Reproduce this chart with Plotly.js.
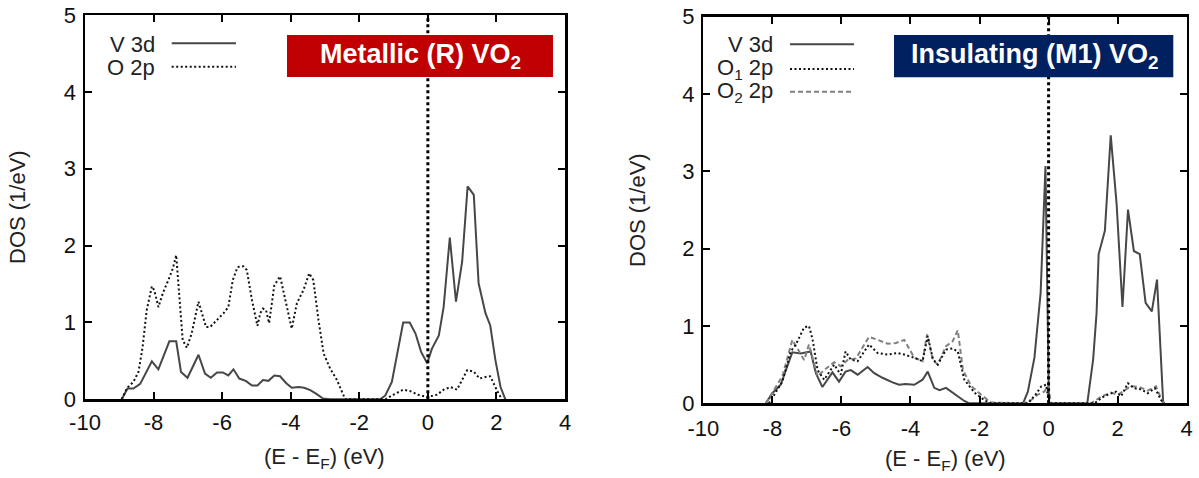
<!DOCTYPE html>
<html>
<head>
<meta charset="utf-8">
<script src="https://cdn.plot.ly/plotly-3.0.1.min.js"></script>
<style>html,body{margin:0;padding:0;background:#fff;}#chart{width:1199px;height:478px;}</style>
</head>
<body>
<div id="chart"></div>
<script>
// ---------- Data ----------
// Metallic (R) VO2
const E_R_V3d = [-8.93,-8.76,-8.59,-8.39,-8.05,-7.86,-7.54,-7.34,-7.20,-7.01,-6.69,-6.50,-6.33,-6.15,-5.98,-5.82,-5.67,-5.50,-5.31,-5.13,-4.97,-4.81,-4.65,-4.48,-4.31,-4.13,-3.97,-3.77,-3.61,-3.43,-3.25,-3.06,-2.85,
  -1.39,-1.24,-1.05,-0.72,-0.53,-0.36,-0.20,-0.02,0.12,0.32,0.46,0.64,0.82,1.00,1.16,1.34,1.48,1.68,1.82,1.97,2.12,2.26];
const DOS_R_V3d = [0,0.14,0.14,0.20,0.495,0.39,0.755,0.755,0.356,0.28,0.58,0.335,0.28,0.35,0.35,0.31,0.39,0.27,0.24,0.18,0.18,0.25,0.24,0.31,0.30,0.21,0.15,0.16,0.15,0.12,0.07,0.01,0,
  0,0.05,0.225,1.0,1.0,0.855,0.62,0.47,0.66,0.83,1.20,2.105,1.27,1.79,2.77,2.66,1.51,1.12,0.96,0.51,0.16,0];

const E_R_O2p = [-8.93,-8.77,-8.59,-8.44,-8.32,-8.20,-8.05,-7.98,-7.86,-7.73,-7.57,-7.44,-7.34,-7.25,-7.15,-7.03,-6.89,-6.69,-6.59,-6.47,-6.35,-6.15,-5.96,-5.82,-5.69,-5.55,-5.38,-5.28,-5.13,-4.97,-4.89,-4.81,-4.72,-4.63,-4.48,-4.31,-4.13,-3.97,-3.82,-3.63,-3.46,-3.34,-3.19,-3.04,-2.85,-2.65,-2.41,
  -1.24,-1.0,-0.72,-0.53,-0.29,-0.02,0.27,0.46,0.66,0.85,1.15,1.34,1.51,1.68,1.82,2.02,2.16];
const DOS_R_O2p = [0,0.15,0.225,0.356,0.68,1.16,1.47,1.42,1.20,1.38,1.55,1.70,1.875,1.29,0.77,0.67,0.855,1.27,1.12,0.94,0.94,1.03,1.12,1.20,1.55,1.72,1.73,1.68,1.29,0.955,1.12,1.18,1.16,0.99,1.48,1.60,1.25,0.92,1.25,1.42,1.64,1.55,1.03,0.595,0.40,0.25,0,
  0,0.06,0.125,0.11,0.06,0.03,0.06,0.125,0.16,0.125,0.38,0.36,0.27,0.29,0.30,0.11,0];

// Insulating (M1) VO2
const E_M1_V3d = [-8.19,-8.0,-7.76,-7.42,-7.18,-6.89,-6.74,-6.55,-6.26,-6.07,-5.88,-5.73,-5.53,-5.24,-5.05,-4.81,-4.52,-4.33,-4.14,-3.89,-3.65,-3.50,-3.31,-3.16,-2.97,-2.72,-2.44,-2.30,
  -0.74,-0.60,-0.41,-0.23,-0.09,0.01,
  1.12,1.29,1.39,1.45,1.63,1.80,1.97,2.14,2.30,2.47,2.64,2.81,2.99,3.14,3.32];
const DOS_M1_V3d = [0,0.13,0.24,0.66,0.645,0.67,0.39,0.21,0.40,0.28,0.41,0.43,0.37,0.47,0.39,0.33,0.27,0.24,0.25,0.24,0.305,0.41,0.20,0.17,0.20,0.12,0.03,0,
  0,0.15,0.59,1.43,3.07,0,
  0,0.565,1.17,1.93,2.23,3.465,2.58,1.245,2.505,1.97,1.93,1.30,1.19,1.60,0];

const E_M1_O1 = [-8.10,-7.90,-7.71,-7.47,-7.32,-7.08,-6.94,-6.84,-6.69,-6.50,-6.21,-6.02,-5.88,-5.73,-5.53,-5.20,-4.95,-4.66,-4.37,-4.18,-3.89,-3.65,-3.50,-3.35,-3.21,-2.97,-2.78,-2.63,-2.44,-2.15,-1.86,-1.67,
  -0.60,-0.38,-0.21,-0.07,0.01,
  1.33,1.57,1.76,1.95,2.10,2.30,2.47,2.68,2.87,3.08,3.26,3.36];
const DOS_M1_O1 = [0,0.15,0.28,0.67,0.76,0.98,1.0,0.84,0.43,0.305,0.50,0.37,0.67,0.565,0.545,0.76,0.65,0.63,0.65,0.63,0.59,0.545,0.87,0.57,0.50,0.695,0.71,0.67,0.305,0.14,0.04,0,
  0,0.11,0.22,0.24,0,
  0,0.08,0.12,0.15,0.09,0.26,0.195,0.18,0.13,0.195,0.04,0];

const E_M1_O2 = [-8.19,-7.95,-7.71,-7.42,-7.23,-7.08,-6.94,-6.69,-6.50,-6.21,-6.02,-5.82,-5.58,-5.20,-4.95,-4.66,-4.42,-4.18,-3.89,-3.65,-3.52,-3.35,-3.21,-2.97,-2.78,-2.63,-2.48,-2.24,-1.95,-1.67,
  -0.70,-0.51,-0.32,-0.13,-0.02,0.07,
  1.23,1.52,1.81,2.01,2.20,2.39,2.64,2.87,3.11,3.30,3.40];
const DOS_M1_O2 = [0,0.17,0.35,0.82,0.67,0.56,0.76,0.35,0.43,0.53,0.48,0.56,0.58,0.86,0.82,0.77,0.78,0.82,0.59,0.545,0.89,0.56,0.50,0.74,0.80,0.945,0.43,0.22,0.11,0.01,
  0,0.04,0.11,0.15,0.22,0,
  0,0.085,0.14,0.11,0.17,0.22,0.21,0.165,0.22,0.02,0];

const FERMI_E = [0, 0];
const FERMI_DOS = [0, 5];

const X_TICKS = [-10,-8,-6,-4,-2,0,2,4];
const X_TICK_TEXT = ['-10','-8','-6','-4','-2','0','2','4'];
const Y_TICKS = [0,1,2,3,4,5];
const Y_TICK_TEXT = ['0','1','2','3','4','5'];
const LEFT_TITLE = 'Metallic (R) VO<sub>2</sub>';
const RIGHT_TITLE = 'Insulating (M1) VO<sub>2</sub>';
const LEFT_LEGEND = ['V 3d', 'O 2p'];
const RIGHT_LEGEND = ['V 3d', 'O<sub>1</sub> 2p', 'O<sub>2</sub> 2p'];
const Y_TITLE = 'DOS (1/eV)';
const X_TITLE = '(E - E<sub>F</sub>) (eV)';

// ---------- Styling ----------
const FONT = 'Liberation Sans, Arial, sans-serif';
const W = 1199, H = 478;
const px = x => x / W;
const py = y => 1 - y / H;

const SOLID = {color: '#474747', width: 2};
const DOT = {color: '#111111', width: 2, dash: '2px,2.5px'};
const DASH = {color: '#808080', width: 2, dash: '5px,3px'};
const FERMI = {color: '#000000', width: 3, dash: '3px,3px'};

const traces = [
  {x: E_R_V3d, y: DOS_R_V3d, xaxis: 'x', yaxis: 'y', mode: 'lines', line: SOLID, name: 'V 3d'},
  {x: E_R_O2p, y: DOS_R_O2p, xaxis: 'x', yaxis: 'y', mode: 'lines', line: DOT, name: 'O 2p'},
  {x: FERMI_E, y: FERMI_DOS, xaxis: 'x', yaxis: 'y', mode: 'lines', line: FERMI, name: 'EF'},
  {x: E_M1_V3d, y: DOS_M1_V3d, xaxis: 'x2', yaxis: 'y2', mode: 'lines', line: SOLID, name: 'V 3d'},
  {x: E_M1_O2, y: DOS_M1_O2, xaxis: 'x2', yaxis: 'y2', mode: 'lines', line: DASH, name: 'O2 2p'},
  {x: E_M1_O1, y: DOS_M1_O1, xaxis: 'x2', yaxis: 'y2', mode: 'lines', line: DOT, name: 'O1 2p'},
  {x: FERMI_E, y: FERMI_DOS, xaxis: 'x2', yaxis: 'y2', mode: 'lines', line: FERMI, name: 'EF'}
];

function axisBase(extra) {
  return Object.assign({
    showline: true, linecolor: '#000', linewidth: 2.5, mirror: 'ticks',
    ticks: 'inside', ticklen: 7, tickwidth: 2, tickcolor: '#000',
    showgrid: false, zeroline: false, fixedrange: true,
    tickfont: {family: FONT, size: 22, color: '#111'}
  }, extra);
}

const layout = {
  width: W, height: H,
  margin: {l: 0, r: 0, t: 0, b: 0},
  paper_bgcolor: '#fff', plot_bgcolor: '#fff',
  showlegend: false,
  font: {family: FONT, color: '#222'},
  xaxis: axisBase({domain: [px(85), px(565)], range: [-10, 4], tickvals: X_TICKS, ticktext: X_TICK_TEXT, anchor: 'y', ticklabelstandoff: 2}),
  yaxis: axisBase({domain: [py(399.3), py(15)], range: [0, 5], tickvals: Y_TICKS, ticktext: Y_TICK_TEXT, anchor: 'x', ticklabelstandoff: 2}),
  xaxis2: axisBase({domain: [px(703.3), px(1186.7)], range: [-10, 4], tickvals: X_TICKS, ticktext: X_TICK_TEXT, anchor: 'y2', ticklabelstandoff: 4}),
  yaxis2: axisBase({domain: [py(403.3), py(16.7)], range: [0, 5], tickvals: Y_TICKS, ticktext: Y_TICK_TEXT, anchor: 'x2', ticklabelstandoff: 2}),
  shapes: [
    {type: 'rect', xref: 'paper', yref: 'paper', x0: px(287), x1: px(553), y0: py(77), y1: py(35), fillcolor: '#C00000', line: {width: 0}, layer: 'above'},
    {type: 'rect', xref: 'paper', yref: 'paper', x0: px(894), x1: px(1173.3), y0: py(77.3), y1: py(35), fillcolor: '#002060', line: {width: 0}, layer: 'above'},
    // legend keys
    {type: 'line', xref: 'paper', yref: 'paper', x0: px(171.7), x1: px(236), y0: py(43.3), y1: py(43.3), line: SOLID},
    {type: 'line', xref: 'paper', yref: 'paper', x0: px(171.7), x1: px(236), y0: py(66.7), y1: py(66.7), line: DOT},
    {type: 'line', xref: 'paper', yref: 'paper', x0: px(790), x1: px(854), y0: py(44.3), y1: py(44.3), line: SOLID},
    {type: 'line', xref: 'paper', yref: 'paper', x0: px(790), x1: px(854), y0: py(69), y1: py(69), line: DOT},
    {type: 'line', xref: 'paper', yref: 'paper', x0: px(790), x1: px(854), y0: py(91.7), y1: py(91.7), line: DASH}
  ],
  annotations: [
    {text: LEFT_TITLE, xref: 'paper', yref: 'paper', x: px(420), y: py(56.5), xanchor: 'center', yanchor: 'middle', showarrow: false,
     font: {family: FONT, size: 27, color: '#fff', weight: 'bold'}},
    {text: RIGHT_TITLE, xref: 'paper', yref: 'paper', x: px(1035), y: py(56.5), xanchor: 'center', yanchor: 'middle', showarrow: false,
     font: {family: FONT, size: 27, color: '#fff', weight: 'bold'}},
    // legends
    {text: LEFT_LEGEND[0], xref: 'paper', yref: 'paper', x: px(157), y: py(44), xanchor: 'right', yanchor: 'middle', showarrow: false, font: {family: FONT, size: 22, color: '#222'}},
    {text: LEFT_LEGEND[1], xref: 'paper', yref: 'paper', x: px(157), y: py(67), xanchor: 'right', yanchor: 'middle', showarrow: false, font: {family: FONT, size: 22, color: '#222'}},
    {text: RIGHT_LEGEND[0], xref: 'paper', yref: 'paper', x: px(775), y: py(44), xanchor: 'right', yanchor: 'middle', showarrow: false, font: {family: FONT, size: 22, color: '#222'}},
    {text: RIGHT_LEGEND[1], xref: 'paper', yref: 'paper', x: px(775), y: py(69), xanchor: 'right', yanchor: 'middle', showarrow: false, font: {family: FONT, size: 22, color: '#222'}},
    {text: RIGHT_LEGEND[2], xref: 'paper', yref: 'paper', x: px(775), y: py(92), xanchor: 'right', yanchor: 'middle', showarrow: false, font: {family: FONT, size: 22, color: '#222'}},
    // axis titles
    {text: Y_TITLE, xref: 'paper', yref: 'paper', x: px(17), y: py(207), xanchor: 'center', yanchor: 'middle', textangle: -90, showarrow: false, font: {family: FONT, size: 22, color: '#222'}},
    {text: Y_TITLE, xref: 'paper', yref: 'paper', x: px(637), y: py(210), xanchor: 'center', yanchor: 'middle', textangle: -90, showarrow: false, font: {family: FONT, size: 22, color: '#222'}},
    {text: X_TITLE, xref: 'paper', yref: 'paper', x: px(325), y: py(458), xanchor: 'center', yanchor: 'middle', showarrow: false, font: {family: FONT, size: 22, color: '#222'}},
    {text: X_TITLE, xref: 'paper', yref: 'paper', x: px(945), y: py(460), xanchor: 'center', yanchor: 'middle', showarrow: false, font: {family: FONT, size: 22, color: '#222'}}
  ]
};

Plotly.newPlot('chart', traces, layout, {staticPlot: true, displayModeBar: false});
</script>
</body>
</html>
